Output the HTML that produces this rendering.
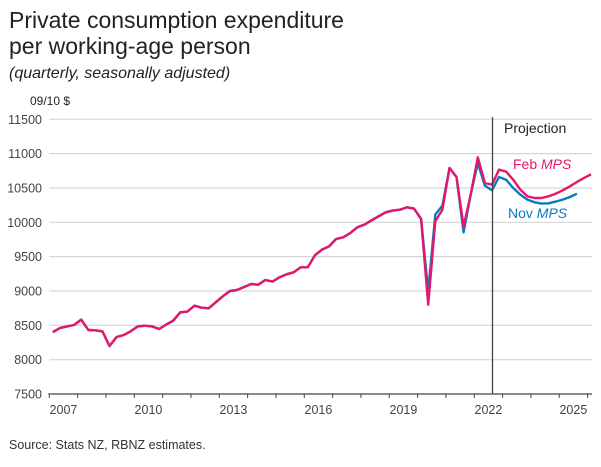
<!DOCTYPE html>
<html><head><meta charset="utf-8"><style>
body{margin:0;background:#fff;font-family:"Liberation Sans",sans-serif}
svg text{font-family:"Liberation Sans",sans-serif}
</style></head><body>
<svg id="chart" width="601" height="462" viewBox="0 0 601 462" xmlns="http://www.w3.org/2000/svg">
<text x="9" y="28" font-size="23" fill="#222">Private consumption expenditure</text>
<text x="9" y="54" font-size="23" fill="#222">per working-age person</text>
<text x="9" y="78" font-size="16" font-style="italic" fill="#222">(quarterly, seasonally adjusted)</text>
<text x="30" y="105" font-size="12" fill="#222">09/10 $</text>
<g id="grid"></g><g id="yticks"></g><g id="xaxis"></g>
<g id="lines"></g>
<line x1="492.5" y1="117" x2="492.5" y2="394" stroke="#444" stroke-width="1.3"/>
<text x="504" y="133" font-size="14" fill="#222">Projection</text>
<text x="513" y="169" font-size="14" fill="#e5176b">Feb <tspan font-style="italic">MPS</tspan></text>
<text x="508" y="218" font-size="14" fill="#0a7bc1">Nov <tspan font-style="italic">MPS</tspan></text>
<text x="9" y="449" font-size="12.5" fill="#333">Source: Stats NZ, RBNZ estimates.</text>
</svg>
<script>
const yTicks=[7500,8000,8500,9000,9500,10000,10500,11000,11500];
const xLabels=[2007,2010,2013,2016,2019,2022,2025];
const startYear=2007;
const febValues=[8400,8460,8485,8505,8583,8432,8427,8413,8199,8330,8359,8413,8485,8495,8485,8447,8510,8568,8690,8700,8786,8757,8748,8835,8922,9000,9015,9058,9102,9092,9160,9136,9199,9243,9272,9345,9345,9519,9602,9650,9757,9782,9845,9927,9966,10029,10087,10146,10170,10184,10218,10199,10049,8801,10015,10184,10791,10660,9942,10403,10947,10573,10548,10767,10738,10621,10476,10379,10354,10354,10379,10417,10466,10524,10587,10646,10699];
const novValues=[8400,8460,8485,8505,8583,8432,8427,8413,8199,8330,8359,8413,8485,8495,8485,8447,8510,8568,8690,8700,8786,8757,8748,8835,8922,9000,9015,9058,9102,9092,9160,9136,9199,9243,9272,9345,9345,9519,9602,9650,9757,9782,9845,9927,9966,10029,10087,10146,10170,10184,10218,10199,10049,8995,10112,10243,10791,10660,9854,10403,10864,10534,10466,10660,10621,10500,10403,10330,10291,10272,10277,10301,10330,10369,10417];
const NS="http://www.w3.org/2000/svg";
const X0=49.3,YW=28.33,XR=592,Ytop=119.3,Ybot=394;
const yS=v=>Ybot-(v-7500)/4000*(Ybot-Ytop);
const xQ=i=>X0+(i+0.5)/4*YW;
const xYear=y=>X0+(y-startYear)*YW;
function mk(t,a,p){const e=document.createElementNS(NS,t);for(const k in a)e.setAttribute(k,a[k]);p.appendChild(e);return e;}
const grid=document.getElementById('grid'),yt=document.getElementById('yticks'),xa=document.getElementById('xaxis'),lg=document.getElementById('lines');
yTicks.forEach(v=>{
 if(v>7500){const l=mk('line',{x1:X0,x2:XR,y1:yS(v),y2:yS(v),stroke:'#d6d6d6','stroke-width':1.2},grid);
 
 }
 const t=mk('text',{x:42,y:yS(v)+4.5,'text-anchor':'end','font-size':12.5,fill:'#444'},yt);t.textContent=v;
 
 
});
const ax=mk('line',{x1:X0-1,x2:XR,y1:Ybot,y2:Ybot,stroke:'#444','stroke-width':1.2},xa);


for(let y=startYear;y<=2026;y++){const x=xYear(y);if(x>XR+1)break;
 const tk=mk('line',{x1:x,x2:x,y1:Ybot,y2:Ybot+4,stroke:'#444','stroke-width':1},xa);
 
 }
xLabels.forEach(y=>{const t=mk('text',{x:xYear(y)+YW/2,y:Ybot+20,'text-anchor':'middle','font-size':12.5,fill:'#444'},xa);t.textContent=y;
 
 });
function line(vals,col,name){const d=vals.map((v,i)=>(i?'L':'M')+xQ(i).toFixed(1)+','+yS(v).toFixed(1)).join('');
 const p=mk('path',{d:d,fill:'none',stroke:col,'stroke-width':2.4,'stroke-linejoin':'round'},lg);
 
 }
line(novValues,'#0a7bc1','series-nov-mps');
line(febValues,'#e5176b','series-feb-mps');
</script>
</body></html>
